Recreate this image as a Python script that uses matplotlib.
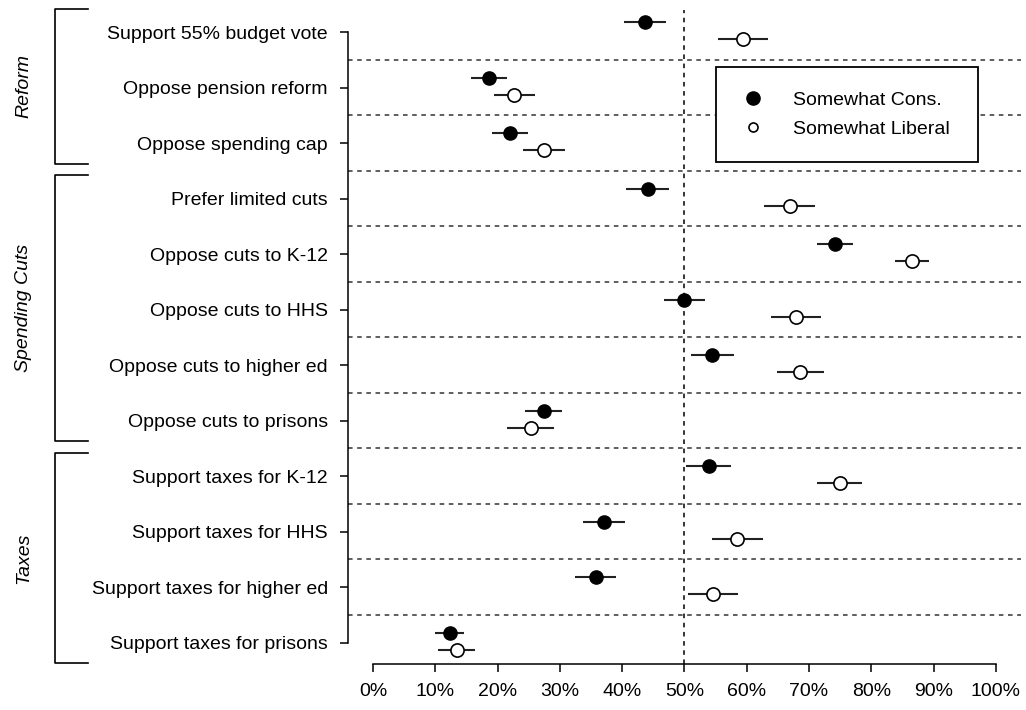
import matplotlib
matplotlib.use("Agg")
import matplotlib.pyplot as plt
from matplotlib.lines import Line2D
from matplotlib.transforms import blended_transform_factory

# survey items, top to bottom
items = [
    "Support 55% budget vote",
    "Oppose pension reform",
    "Oppose spending cap",
    "Prefer limited cuts",
    "Oppose cuts to K-12",
    "Oppose cuts to HHS",
    "Oppose cuts to higher ed",
    "Oppose cuts to prisons",
    "Support taxes for K-12",
    "Support taxes for HHS",
    "Support taxes for higher ed",
    "Support taxes for prisons",
]

# percent estimates and half-widths of the intervals
cons = [43.7, 18.7, 22.0, 44.1, 74.2, 50.0, 54.5, 27.4, 53.9, 37.1, 35.8, 12.3]
cons_err = [3.4, 2.9, 2.9, 3.5, 2.9, 3.3, 3.5, 2.95, 3.6, 3.4, 3.3, 2.35]
lib = [59.4, 22.7, 27.5, 66.9, 86.5, 67.9, 68.6, 25.3, 74.9, 58.5, 54.6, 13.45]
lib_err = [4.0, 3.3, 3.4, 4.05, 2.75, 3.95, 3.8, 3.7, 3.55, 4.05, 4.0, 3.0]

# groups: name, first item index, last item index
groups = [("Reform", 0, 2), ("Spending Cuts", 3, 7), ("Taxes", 8, 11)]

xticks = list(range(0, 101, 10))

plt.rcParams["font.family"] = ["Liberation Sans", "DejaVu Sans"]
plt.rcParams["font.size"] = 14

fig = plt.figure(figsize=(10.26, 7.10), dpi=100)
ax = fig.add_axes([348 / 1026, 46 / 710, 672.8 / 1026, 654 / 710])

n = len(items)
ypos = [n - i for i in range(n)]

# separators between rows and reference line at 50%
for k in range(1, n):
    ax.axhline(k + 0.5, color="#333333", lw=1.1, ls=(0, (3, 3)), zorder=1)
ax.axvline(50, color="black", lw=1.1, ls=(0, (3, 3)), zorder=1)

y_c = [y + 0.18 for y in ypos]
y_l = [y - 0.13 for y in ypos]

ax.hlines(y_c, [c - e for c, e in zip(cons, cons_err)],
          [c + e for c, e in zip(cons, cons_err)], color="#222222", lw=1.5, zorder=2)
ax.hlines(y_l, [c - e for c, e in zip(lib, lib_err)],
          [c + e for c, e in zip(lib, lib_err)], color="#222222", lw=1.5, zorder=2)
ax.plot(cons, y_c, "o", color="black", ms=9.5, zorder=3)
ax.plot(lib, y_l, "o", mfc="white", mec="black", mew=1.2, ms=9.5, zorder=3)

ax.set_xlim(-4, 104)
ax.set_ylim(0.615, 12.4)

ax.set_xticks(xticks)
ax.set_xticklabels([f"{t}%" for t in xticks])
ax.set_yticks(ypos)
ax.set_yticklabels(items)

for s in ["top", "right"]:
    ax.spines[s].set_visible(False)
ax.spines["left"].set_bounds(1, n)
ax.spines["bottom"].set_bounds(0, 100)
for s in ["left", "bottom"]:
    ax.spines[s].set_linewidth(1.1)
ax.tick_params(axis="both", direction="out", length=5.5, width=1.1, color="black")
ax.tick_params(axis="y", pad=9)
ax.tick_params(axis="x", pad=8)

# group brackets on the left margin
tr = blended_transform_factory(fig.transFigure, ax.transData)
x_v, x_h = 55 / 1026, 88 / 1026
for name, a, b in groups:
    top = ypos[a] + 0.42
    bot = ypos[b] - 0.37
    ax.plot([x_h, x_v, x_v, x_h], [top, top, bot, bot], color="black",
            lw=1.2, transform=tr, clip_on=False)
    ax.text(24 / 1026, (top + bot) / 2, name, rotation=90, style="italic",
            ha="center", va="center", transform=tr, fontsize=14)

handles = [
    Line2D([], [], ls="none", marker="o", color="black", ms=9.5),
    Line2D([], [], ls="none", marker="o", mfc="white", mec="black", mew=1.2, ms=6.5),
]
leg = ax.legend(handles, ["Somewhat Cons.", "Somewhat Liberal"],
                loc="upper left", bbox_to_anchor=(0.547, 0.9124, 0.389, 0.0),
                mode="expand", fancybox=False, framealpha=1, edgecolor="black",
                borderpad=1.25, labelspacing=0.55, handlelength=1.30,
                handletextpad=1.39, fontsize=14, borderaxespad=0)
leg.get_frame().set_linewidth(1.3)
leg.set_zorder(5)

fig.savefig("out.png", dpi=100)
